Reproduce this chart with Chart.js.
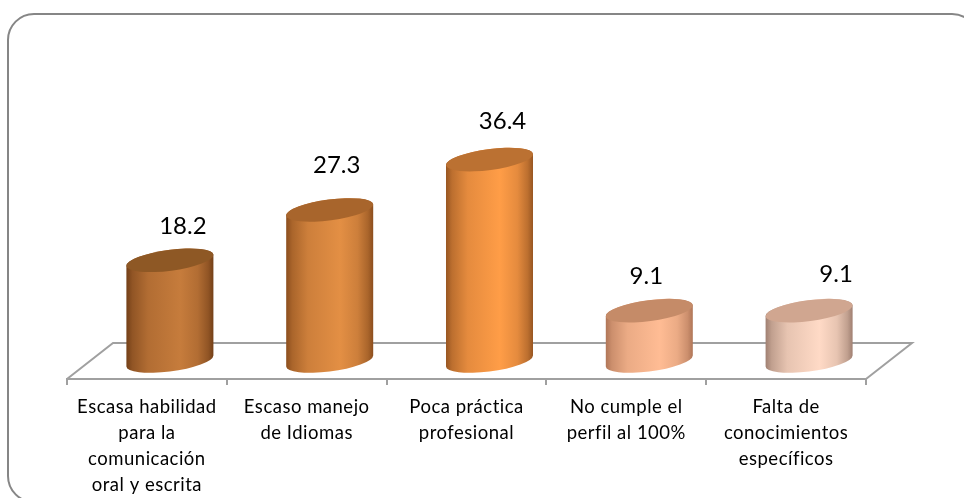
<!DOCTYPE html>
<html>
<head>
<meta charset="utf-8">
<style>
html,body{margin:0;padding:0;background:#fff;width:964px;height:498px;overflow:hidden;}
#wrap{position:relative;width:964px;height:498px;overflow:hidden;}
#frame{position:absolute;left:7px;top:13px;width:972px;height:490px;box-sizing:border-box;border:2px solid #868686;border-radius:27px;}
canvas{position:absolute;left:0;top:0;filter:blur(0.4px);}
</style>
<script src="https://cdn.jsdelivr.net/npm/chart.js@4/dist/chart.umd.min.js"></script>
</head>
<body>
<div id="wrap"><div id="frame"></div><canvas id="c" width="964" height="498"></canvas></div>
<script>
const categories = [
  ["Escasa habilidad","para la","comunicación","oral y escrita"],
  ["Escaso manejo","de Idiomas"],
  ["Poca práctica","profesional"],
  ["No cumple el","perfil al 100%"],
  ["Falta de","conocimientos","específicos"]
];
const values = [18.2, 27.3, 36.4, 9.1, 9.1];
const valueLabels = ["18.2", "27.3", "36.4", "9.1", "9.1"];

// Styling, one entry per cylinder
const edgeColors  = [[116,64,24], [140,78,30], [152,86,34], [176,118,88], [160,128,114]];
const midColors   = [[198,124,60], [227,143,68], [255,157,71], [255,188,148], [255,218,198]];
const capColors   = ["#8e5825", "#a8652c", "#bb7132", "#c58b68", "#d0a690"];
const labelShiftX = [13, 7, 13, -3, 27];
const labelShiftY = [-34, -45, -38, -34, -36];

const DEPTH_X = 46, DEPTH_Y = 36;
const AXIS = "#a0a0a0";
const FONT = "Lato, Carlito, sans-serif";
const SHADE_STOPS = [[0, 0], [0.07, 0.35], [0.25, 0.75], [0.62, 1], [0.82, 0.75], [0.94, 0.35], [1, 0]];

function mix(a, b, t) {
  return "rgb(" + a.map((v, k) => Math.round(v + (b[k] - v) * t)).join(",") + ")";
}

const cylinders = {
  id: "cylinders",
  beforeDraw(chart) { chart.ctx.letterSpacing = "0.5px"; },
  beforeDatasetsDraw(chart) {
    const {ctx, chartArea: a} = chart;
    ctx.save();
    ctx.strokeStyle = AXIS;
    ctx.lineWidth = 2;
    ctx.beginPath();
    ctx.moveTo(a.left, a.bottom);
    ctx.lineTo(a.left + DEPTH_X, a.bottom - DEPTH_Y);
    ctx.lineTo(a.right + DEPTH_X, a.bottom - DEPTH_Y);
    ctx.lineTo(a.right, a.bottom);
    ctx.stroke();
    ctx.restore();
  },
  afterDatasetsDraw(chart) {
    const {ctx} = chart;
    const meta = chart.getDatasetMeta(0);
    const rot = -7.5 * Math.PI / 180;
    meta.data.forEach((bar, i) => {
      const w = bar.width;
      const cx = bar.x + DEPTH_X / 2;
      const top = bar.y - DEPTH_Y / 2;
      const base = bar.base - DEPTH_Y / 2;
      const rx = w / 2 * 1.009, ry = w / 2 * 0.24;
      const t0 = Math.atan((ry / rx) * Math.tan(-rot));
      ctx.save();
      const g = ctx.createLinearGradient(cx - w / 2, 0, cx + w / 2, 0);
      SHADE_STOPS.forEach(s => g.addColorStop(s[0], mix(edgeColors[i], midColors[i], s[1])));
      ctx.fillStyle = g;
      ctx.beginPath();
      ctx.ellipse(cx, top, rx, ry, rot, t0 + Math.PI, t0 + 2 * Math.PI);
      ctx.ellipse(cx, base, rx, ry, rot, t0, t0 + Math.PI);
      ctx.closePath();
      ctx.fill();
      ctx.fillStyle = capColors[i];
      ctx.beginPath();
      ctx.ellipse(cx, top, rx, ry, rot, 0, 2 * Math.PI);
      ctx.fill();
      ctx.letterSpacing = "0px";
      ctx.fillStyle = "#000";
      ctx.font = "24px " + FONT;
      ctx.textAlign = "center";
      ctx.textBaseline = "middle";
      ctx.fillText(valueLabels[i], cx + labelShiftX[i], top + labelShiftY[i]);
      ctx.restore();
    });
  }
};

new Chart(document.getElementById("c"), {
  type: "bar",
  data: {
    labels: categories,
    datasets: [{
      data: values,
      backgroundColor: "rgba(0,0,0,0)",
      borderWidth: 0,
      barPercentage: 0.544,
      categoryPercentage: 1
    }]
  },
  options: {
    responsive: false,
    animation: false,
    layout: {padding: {left: 67, right: 98, top: 0, bottom: 0}},
    plugins: {legend: {display: false}, tooltip: {enabled: false}},
    scales: {
      x: {
        grid: {display: true, drawOnChartArea: false, drawTicks: true, tickLength: 6, color: AXIS, lineWidth: 2},
        border: {display: true, color: AXIS, width: 2},
        ticks: {
          color: "#000", autoSkip: false, maxRotation: 0, minRotation: 0, padding: 9,
          font: {family: FONT, size: 18.5, lineHeight: 1.4}
        },
        afterFit(scale) { scale.height = 119; }
      },
      y: {display: false, min: 0, max: 68.5}
    }
  },
  plugins: [cylinders]
});
</script>
</body>
</html>
